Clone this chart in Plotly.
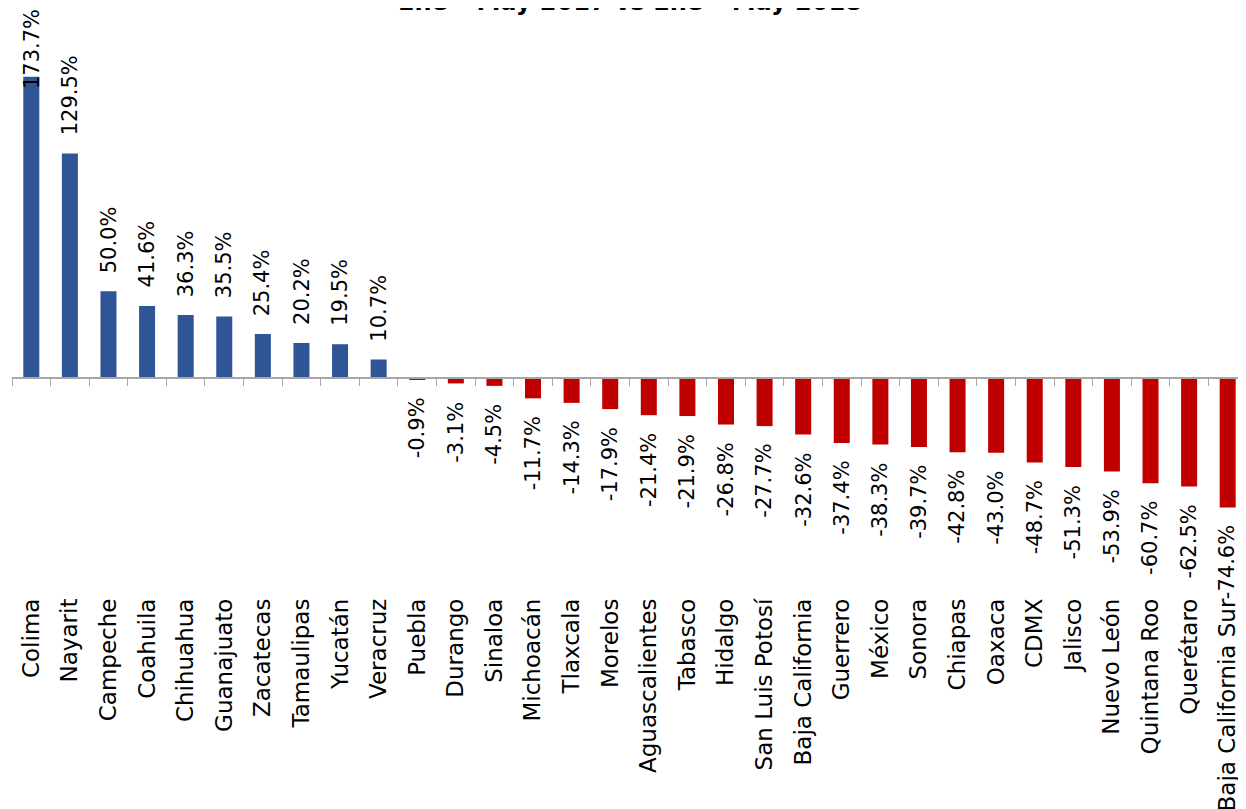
import plotly.graph_objects as go

states = ["Colima", "Nayarit", "Campeche", "Coahuila", "Chihuahua", "Guanajuato",
          "Zacatecas", "Tamaulipas", "Yucatán", "Veracruz", "Puebla", "Durango",
          "Sinaloa", "Michoacán", "Tlaxcala", "Morelos", "Aguascalientes", "Tabasco",
          "Hidalgo", "San Luis Potosí", "Baja California", "Guerrero", "México",
          "Sonora", "Chiapas", "Oaxaca", "CDMX", "Jalisco", "Nuevo León",
          "Quintana Roo", "Querétaro", "Baja California Sur"]
change_pct = [173.7, 129.5, 50.0, 41.6, 36.3, 35.5, 25.4, 20.2, 19.5, 10.7,
              -0.9, -3.1, -4.5, -11.7, -14.3, -17.9, -21.4, -21.9, -26.8, -27.7,
              -32.6, -37.4, -38.3, -39.7, -42.8, -43.0, -48.7, -51.3, -53.9,
              -60.7, -62.5, -74.6]
title_text = "Ene – May 2017 vs Ene – May 2018"

BLUE = "#2F5597"
RED = "#C00000"
FONT = "DejaVu Sans"

colors = [BLUE if v >= 0 else RED for v in change_pct]

y_min, y_max = -123.9, 213.3
zero_pos = (0 - y_min) / (y_max - y_min)

fig = go.Figure()
fig.add_trace(go.Bar(
    x=states, y=change_pct, marker=dict(color=colors, line=dict(width=0)),
    xaxis="x", yaxis="y", hoverinfo="x+y", showlegend=False,
))
# invisible trace carrying the category labels at the bottom
fig.add_trace(go.Scatter(
    x=states, y=[0] * len(states), mode="markers", marker=dict(opacity=0),
    xaxis="x2", yaxis="y", hoverinfo="skip", showlegend=False,
))

annotations = []
vmax = max(change_pct)
for s, v in zip(states, change_pct):
    if v >= 0:
        shift = 16 if v < vmax else -14
        annotations.append(dict(x=s, y=v, xref="x", yref="y", text=f"{v:.1f}%",
                                textangle=-90, showarrow=False, yanchor="bottom",
                                yshift=shift, font=dict(family=FONT, size=21, color="#000")))
    else:
        annotations.append(dict(x=s, y=v, xref="x", yref="y", text=f"{v:.1f}%",
                                textangle=-90, showarrow=False, yanchor="top",
                                yshift=-16, font=dict(family=FONT, size=21, color="#000")))
annotations.append(dict(x=0.5, y=1, xref="paper", yref="paper", text=f"<b>{title_text}</b>",
                        showarrow=False, yanchor="bottom", yshift=-10,
                        font=dict(family=FONT, size=24, color="#000")))

fig.update_layout(
    width=1246, height=809,
    margin=dict(l=4, r=7, t=0, b=224, autoexpand=False),
    paper_bgcolor="white", plot_bgcolor="white",
    bargap=0.585,
    font=dict(family=FONT, size=22, color="#000"),
    xaxis=dict(type="category", range=[-0.5, len(states) - 0.5],
               anchor="free", position=zero_pos, automargin=False,
               showline=True, linecolor="#A6A6A6", linewidth=2,
               ticks="outside", tickson="boundaries", ticklen=7, tickcolor="#A6A6A6",
               tickwidth=1, showticklabels=False, showgrid=False, zeroline=False),
    xaxis2=dict(type="category", range=[-0.5, len(states) - 0.5], overlaying="x",
                anchor="y", side="bottom", showline=False, ticks="", showgrid=False,
                automargin=False, tickangle=-90,
                tickfont=dict(family=FONT, size=23, color="#000")),
    yaxis=dict(range=[y_min, y_max], visible=False, showgrid=False, zeroline=False,
               automargin=False),
    annotations=annotations,
)

fig.write_html("out.html")
